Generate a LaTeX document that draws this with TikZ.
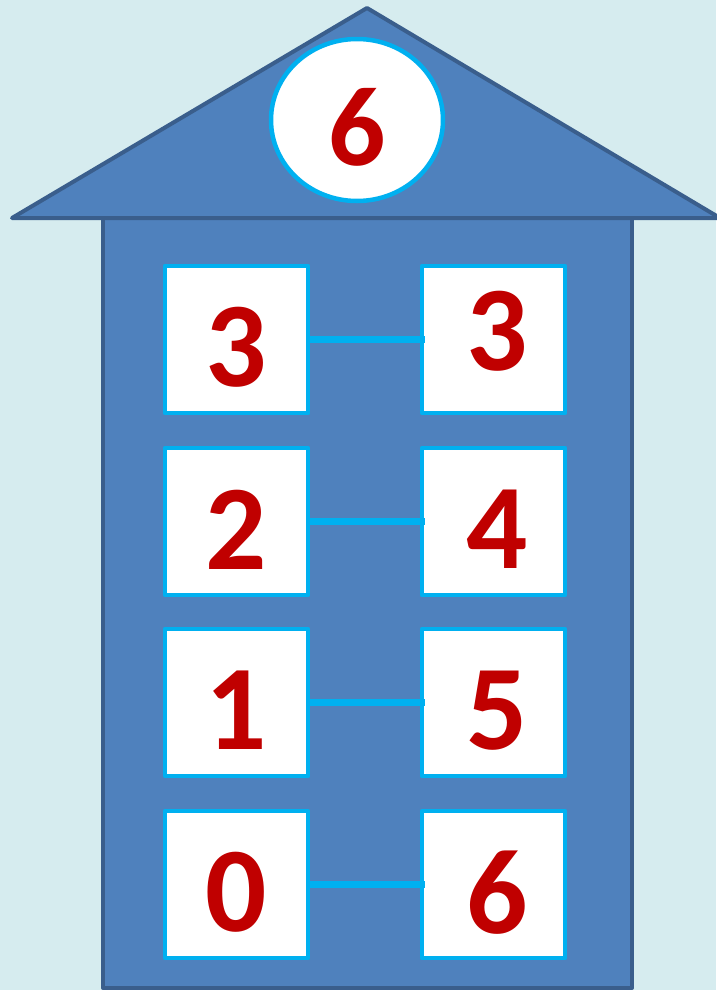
\documentclass[tikz,border=0pt]{standalone}
\usepackage{fontspec}
\setmainfont{Carlito}
\usetikzlibrary{shapes.geometric}
\definecolor{bgblue}{RGB}{214,236,239}
\definecolor{wallblue}{RGB}{79,129,189}
\definecolor{edgeblue}{RGB}{58,94,140}
\definecolor{cyanline}{RGB}{0,176,240}
\definecolor{digitred}{RGB}{192,0,0}

\begin{document}
\begin{tikzpicture}[x=1pt, y=-1pt, line join=round,
  wall/.style={draw=edgeblue, fill=wallblue, line width=4pt},
  cell/.style={rectangle, draw=cyanline, fill=white, line width=4.5pt,
    minimum width=143pt, minimum height=147pt, inner sep=0pt},
  digit/.style={text=digitred, inner sep=0pt,
    font=\fontsize{121}{121}\selectfont\bfseries},
  link/.style={draw=cyanline, line width=7pt}]

  \useasboundingbox (0,0) rectangle (716,990);
  \fill[bgblue] (0,0) rectangle (716,990);

  % house
  \draw[wall] (103,218) rectangle (632,988);
  \draw[wall] (12,218) -- (367,8) -- (720,218) -- cycle;

  % the number on the roof
  \node[ellipse, draw=cyanline, fill=white, line width=4.5pt,
    minimum width=172pt, minimum height=162pt] (top) at (357,120) {};
  \node[digit, font=\fontsize{113}{113}\selectfont\bfseries] (topnum) at (357,127) {6};

  % the rooms
  \foreach \i/\y/\a/\b/\s in {1/339.5/3/3/-8, 2/521.5/2/4/8, 3/702.5/1/5/8, 4/884.5/0/6/8} {
    \node[cell] (l\i) at (236.5,\y) {};
    \node[cell] (r\i) at (493.5,\y) {};
    \draw[link] (l\i.east) -- ([xshift=5pt]r\i.west);
    \node[digit] (ln\i) at ([yshift=-8pt]l\i.center) {\a};
    \node[digit] (rn\i) at ([xshift=4pt,yshift=-\s pt]r\i.center) {\b};
  }

\end{tikzpicture}
\end{document}
